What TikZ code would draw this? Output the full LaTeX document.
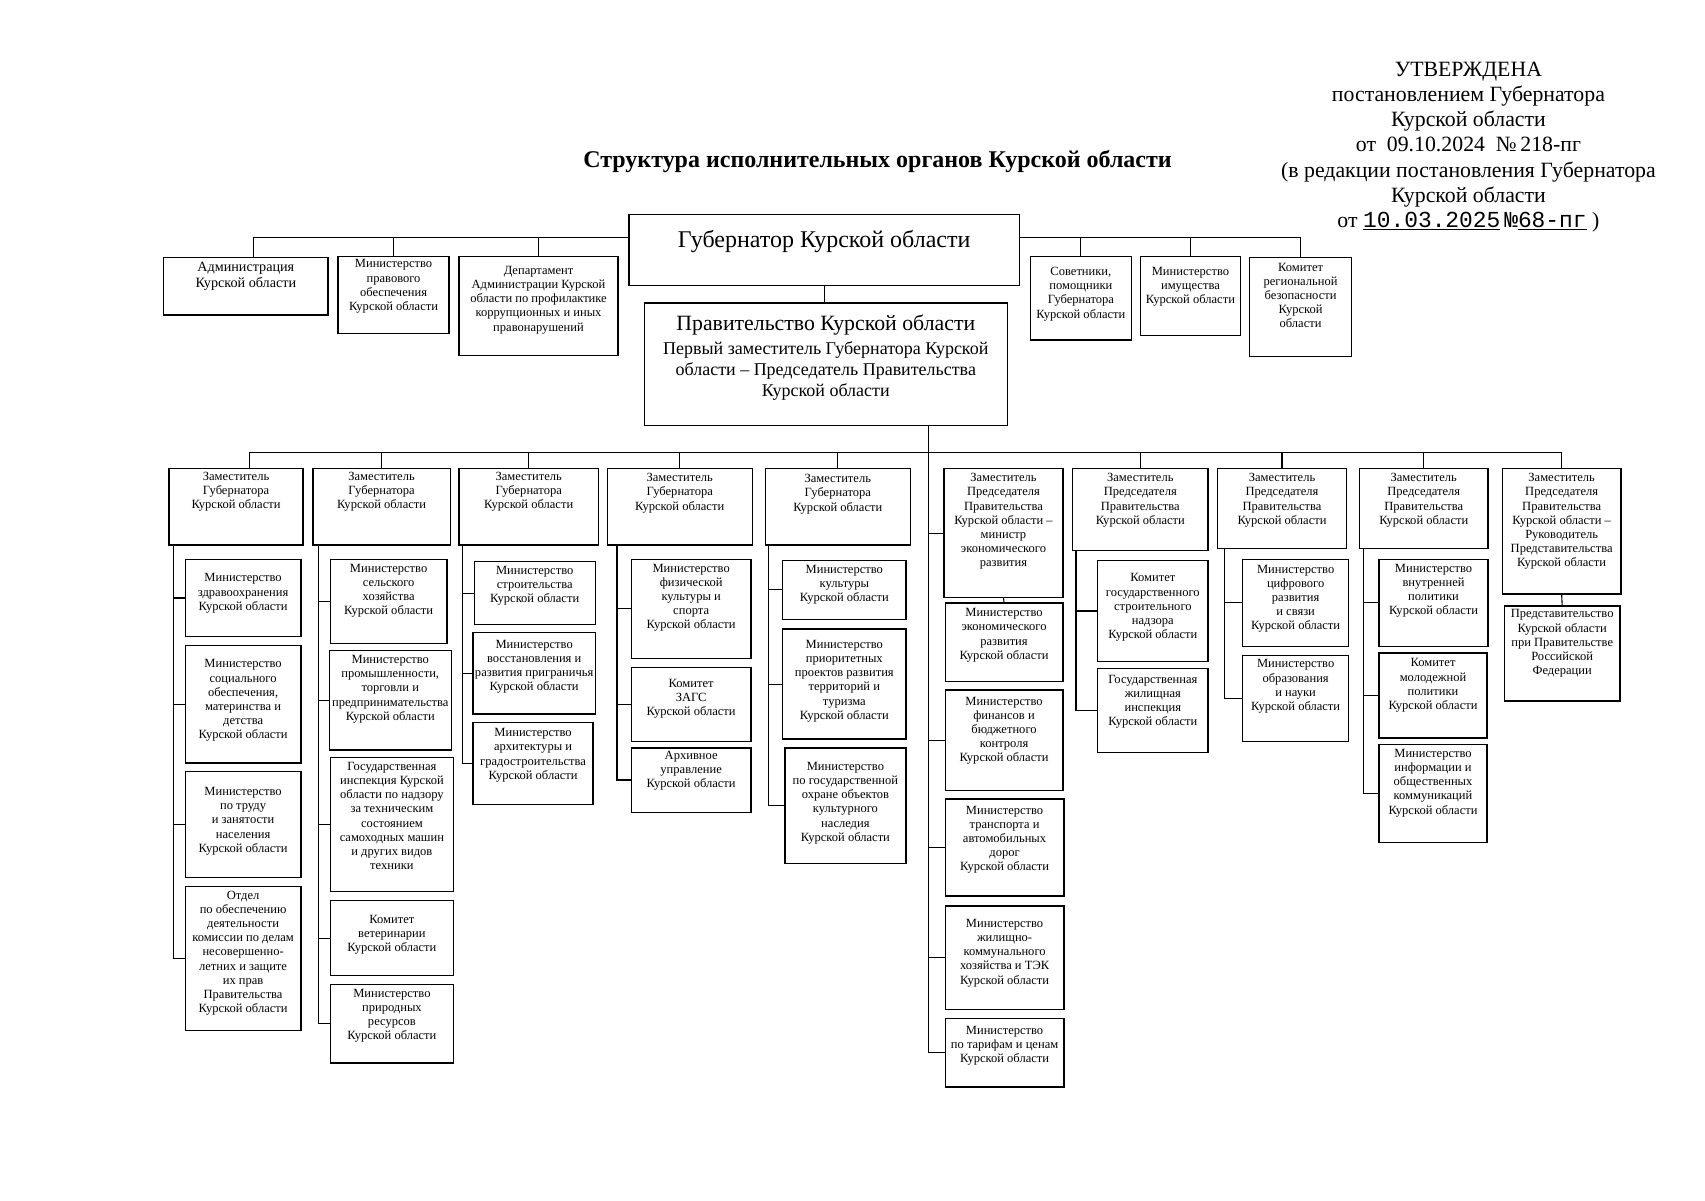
\documentclass[tikz,border=0pt]{standalone}
\usepackage{fontspec}
\setmainfont{Liberation Serif}
\newfontfamily\monof{Liberation Mono}
\usetikzlibrary{positioning}

\begin{document}
\begin{tikzpicture}[x=1pt,y=-1pt,
	unit box/.style={draw,line width=1.2pt,anchor=north west,inner sep=0pt,outer sep=0pt},
	unit text/.style={font=\fontsize{11.5}{13}\selectfont,align=center,inner sep=0pt,anchor=north},
	link/.style={line width=1pt},
	head text/.style={font=\fontsize{20}{23}\selectfont,align=center,inner sep=0pt}]

	\fill[white] (0,0) rectangle (1564,1101);
	\useasboundingbox (0,0) rectangle (1564,1101);

	% header
	\node[head text,anchor=north] (appr) at (1347,57) {УТВЕРЖДЕНА\\постановлением Губернатора\\Курской области\\от\ \ 09.10.2024\ \ №\,218-пг\\(в редакции постановления Губернатора\\Курской области\\от {\fontsize{21}{23}\monof\underline{10.03.2025}\,№\underline{68-пг}} )};
	\node[font=\fontsize{22}{25}\selectfont\bfseries,inner sep=0pt] (title) at (805,148) {Структура исполнительных органов Курской области};

	% governor and government
	\node[unit box,minimum width=358,minimum height=65,label={[unit text,font=\fontsize{22}{25}\selectfont,yshift=-14]north:{Губернатор Курской области}}] (gov) at (577,197) {};
	\node[unit box,minimum width=333,minimum height=112,label={[unit text,font=\fontsize{16.5}{19.5}\selectfont,yshift=-11]north:{{\fontsize{20}{22}\selectfont Правительство Курской области}\\[2pt]Первый заместитель Губернатора Курской\\области – Председатель Правительства\\Курской области}}] (govt) at (591,278) {};

	% top row
	\node[unit box,minimum width=151,minimum height=53,label={[unit text,font=\fontsize{13}{15}\selectfont,yshift=-4]north:{Администрация\\Курской области}}] (adm) at (150,236) {};
	\node[unit box,minimum width=102,minimum height=71,label={[unit text,yshift=-3]north:{Министерство\\правового\\обеспечения\\Курской области}}] (mpr) at (310,235) {};
	\node[unit box,minimum width=146,minimum height=91,label={[unit text,yshift=-9]north:{Департамент\\Администрации Курской\\области по профилактике\\коррупционных и иных\\правонарушений}}] (dep) at (421,235) {};
	\node[unit box,minimum width=93,minimum height=77,label={[unit text,yshift=-10]north:{Советники,\\помощники\\Губернатора\\Курской области}}] (sov) at (945,235) {};
	\node[unit box,minimum width=92,minimum height=73,label={[unit text,yshift=-10]north:{Министерство\\имущества\\Курской области}}] (mim) at (1046,235) {};
	\node[unit box,minimum width=94,minimum height=91,label={[unit text,yshift=-5]north:{Комитет\\региональной\\безопасности\\Курской\\области}}] (krb) at (1146,236) {};

	% deputies
	\node[unit box,minimum width=123,minimum height=70,label={[unit text,yshift=-3]north:{Заместитель\\Губернатора\\Курской области}}] (g1) at (155,430) {};
	\node[unit box,minimum width=126,minimum height=70,label={[unit text,yshift=-3]north:{Заместитель\\Губернатора\\Курской области}}] (g2) at (287,430) {};
	\node[unit box,minimum width=128,minimum height=70,label={[unit text,yshift=-3]north:{Заместитель\\Губернатора\\Курской области}}] (g3) at (421,430) {};
	\node[unit box,minimum width=133,minimum height=70,label={[unit text,yshift=-4]north:{Заместитель\\Губернатора\\Курской области}}] (g4) at (557,430) {};
	\node[unit box,minimum width=133,minimum height=70,label={[unit text,yshift=-5]north:{Заместитель\\Губернатора\\Курской области}}] (g5) at (702,430) {};
	\node[unit box,minimum width=109,minimum height=118,label={[unit text,yshift=-4]north:{Заместитель\\Председателя\\Правительства\\Курской области –\\министр\\экономического\\развития}}] (g6) at (866,430) {};
	\node[unit box,minimum width=124,minimum height=75,label={[unit text,yshift=-4]north:{Заместитель\\Председателя\\Правительства\\Курской области}}] (g7) at (984,430) {};
	\node[unit box,minimum width=118,minimum height=73,label={[unit text,yshift=-4]north:{Заместитель\\Председателя\\Правительства\\Курской области}}] (g8) at (1117,430) {};
	\node[unit box,minimum width=118,minimum height=73,label={[unit text,yshift=-4]north:{Заместитель\\Председателя\\Правительства\\Курской области}}] (g9) at (1247,430) {};
	\node[unit box,minimum width=109,minimum height=115,label={[unit text,yshift=-4]north:{Заместитель\\Председателя\\Правительства\\Курской области –\\Руководитель\\Представительства\\Курской области}}] (g10) at (1378,430) {};

	% first group
	\node[unit box,minimum width=106,minimum height=71,label={[unit text,yshift=-13]north:{Министерство\\здравоохранения\\Курской области}}] (c11) at (170,513) {};
	\node[unit box,minimum width=106,minimum height=108,label={[unit text,yshift=-13]north:{Министерство\\социального\\обеспечения,\\материнства и\\детства\\Курской области}}] (c12) at (170,592) {};
	\node[unit box,minimum width=106,minimum height=97,label={[unit text,yshift=-14]north:{Министерство\\по труду\\и занятости\\населения\\Курской области}}] (c13) at (170,708) {};
	\node[unit box,minimum width=106,minimum height=132,label={[unit text,yshift=-4]north:{Отдел\\по обеспечению\\деятельности\\комиссии по делам\\несовершенно-\\летних и защите\\их прав\\Правительства\\Курской области}}] (c14) at (170,813) {};

	% second group
	\node[unit box,minimum width=107,minimum height=77,label={[unit text,yshift=-4]north:{Министерство\\сельского\\хозяйства\\Курской области}}] (c21) at (303,513) {};
	\node[unit box,minimum width=112,minimum height=91,label={[unit text,yshift=-4]north:{Министерство\\промышленности,\\торговли и\\предпринимательства\\Курской области}}] (c22) at (302,597) {};
	\node[unit box,minimum width=113,minimum height=123,label={[unit text,yshift=-4]north:{Государственная\\инспекция Курской\\области по надзору\\за техническим\\состоянием\\самоходных машин\\и других видов\\техники}}] (c23) at (303,695) {};
	\node[unit box,minimum width=113,minimum height=69,label={[unit text,yshift=-13]north:{Комитет\\ветеринарии\\Курской области}}] (c24) at (303,826) {};
	\node[unit box,minimum width=113,minimum height=72,label={[unit text,yshift=-4]north:{Министерство\\природных\\ресурсов\\Курской области}}] (c25) at (303,903) {};

	% third group
	\node[unit box,minimum width=111,minimum height=58,label={[unit text,yshift=-4]north:{Министерство\\строительства\\Курской области}}] (c31) at (435,515) {};
	\node[unit box,minimum width=112,minimum height=75,label={[unit text,yshift=-7]north:{Министерство\\восстановления и\\развития приграничья\\Курской области}}] (c32) at (434,580) {};
	\node[unit box,minimum width=110,minimum height=75,label={[unit text,yshift=-5]north:{Министерство\\архитектуры и\\градостроительства\\Курской области}}] (c33) at (434,663) {};

	% fourth group
	\node[unit box,minimum width=110,minimum height=91,label={[unit text,yshift=-4]north:{Министерство\\физической\\культуры и\\спорта\\Курской области}}] (c41) at (579,513) {};
	\node[unit box,minimum width=110,minimum height=68,label={[unit text,yshift=-11]north:{Комитет\\ЗАГС\\Курской области}}] (c42) at (579,612) {};
	\node[unit box,minimum width=110,minimum height=59,label={[unit text,yshift=-3]north:{Архивное\\управление\\Курской области}}] (c43) at (579,686) {};

	% fifth group
	\node[unit box,minimum width=113,minimum height=54,label={[unit text,yshift=-4]north:{Министерство\\культуры\\Курской области}}] (c51) at (718,514) {};
	\node[unit box,minimum width=113,minimum height=101,label={[unit text,yshift=-10]north:{Министерство\\приоритетных\\проектов развития\\территорий и\\туризма\\Курской области}}] (c52) at (718,577) {};
	\node[unit box,minimum width=111,minimum height=106,label={[unit text,yshift=-13]north:{Министерство\\по государственной\\охране объектов\\культурного\\наследия\\Курской области}}] (c53) at (720,686) {};

	% sixth group
	\node[unit box,minimum width=108,minimum height=72,label={[unit text,yshift=-5]north:{Министерство\\экономического\\развития\\Курской области}}] (c61) at (867,553) {};
	\node[unit box,minimum width=108,minimum height=92,label={[unit text,yshift=-6]north:{Министерство\\финансов и\\бюджетного\\контроля\\Курской области}}] (c62) at (867,633) {};
	\node[unit box,minimum width=109,minimum height=89,label={[unit text,yshift=-6]north:{Министерство\\транспорта и\\автомобильных\\дорог\\Курской области}}] (c63) at (867,733) {};
	\node[unit box,minimum width=109,minimum height=95,label={[unit text,yshift=-12]north:{Министерство\\жилищно-\\коммунального\\хозяйства и ТЭК\\Курской области}}] (c64) at (867,831) {};
	\node[unit box,minimum width=109,minimum height=63,label={[unit text,yshift=-7]north:{Министерство\\по тарифам и ценам\\Курской области}}] (c65) at (867,934) {};

	% seventh to tenth groups
	\node[unit box,minimum width=101,minimum height=93,label={[unit text,yshift=-12]north:{Комитет\\государственного\\строительного\\надзора\\Курской области}}] (c71) at (1007,514) {};
	\node[unit box,minimum width=101,minimum height=77,label={[unit text,yshift=-6]north:{Государственная\\жилищная\\инспекция\\Курской области}}] (c72) at (1007,613) {};
	\node[unit box,minimum width=97,minimum height=80,label={[unit text,yshift=-5]north:{Министерство\\цифрового\\развития\\и связи\\Курской области}}] (c81) at (1140,513) {};
	\node[unit box,minimum width=97,minimum height=79,label={[unit text,yshift=-4]north:{Министерство\\образования\\и науки\\Курской области}}] (c82) at (1140,601) {};
	\node[unit box,minimum width=100,minimum height=80,label={[unit text,yshift=-4]north:{Министерство\\внутренней\\политики\\Курской области}}] (c91) at (1265,513) {};
	\node[unit box,minimum width=99,minimum height=78,label={[unit text,yshift=-5]north:{Комитет\\молодежной\\политики\\Курской области}}] (c92) at (1265,599) {};
	\node[unit box,minimum width=99,minimum height=90,label={[unit text,yshift=-4]north:{Министерство\\информации и\\общественных\\коммуникаций\\Курской области}}] (c93) at (1265,683) {};
	\node[unit box,minimum width=106,minimum height=87,label={[unit text,yshift=-3]north:{Представительство\\Курской области\\при Правительстве\\Российской\\Федерации}}] (c101) at (1380,556) {};

	% top bar
	\coordinate (tb) at (0,218);
	\draw[link] (gov.west |- tb) -| ([xshift=7]adm.north);
	\draw[link] (gov.east |- tb) -| (krb.north);
	\foreach \n in {mpr,dep,sov,mim}
		\draw[link] (\n.north) -- (\n.north |- tb);
	\draw[link] (gov.south) -- (gov.south |- govt.north);

	% main bar
	\coordinate (mb) at (0,415);
	\coordinate (s6) at ([xshift=-14]g6.north west);
	\draw[link] ([xshift=12]g1.north) |- (mb -| g10.north) -- (g10.north);
	\foreach \g in {g2,g3,g4,g5,g7,g8,g9}
		\draw[link] (\g.north) -- (\g.north |- mb);
	\draw[link] (govt.south -| s6) |- (c65.west);
	\foreach \c in {g6,c62,c63,c64}
		\draw[link] (s6 |- \c.west) -- (\c.west);
	\draw[link] (g6.south) -- (c61.north);
	\draw[link] (g10.south) -- (c101.north);

	% branches
	\draw[link] ([xshift=4]g1.south west) coordinate (s1) |- (c14.west);
	\foreach \c in {c11,c12,c13}
		\draw[link] (s1 |- \c.west) -- (\c.west);
	\draw[link] ([xshift=5]g2.south west) coordinate (s2) |- (c25.west);
	\foreach \c in {c21,c22,c23,c24}
		\draw[link] (s2 |- \c.west) -- (\c.west);
	\draw[link] ([xshift=3]g3.south west) coordinate (s3) |- (c33.west);
	\foreach \c in {c31,c32}
		\draw[link] (s3 |- \c.west) -- (\c.west);
	\draw[link] ([xshift=9]g4.south west) coordinate (s4) |- (c43.west);
	\foreach \c in {c41,c42}
		\draw[link] (s4 |- \c.west) -- (\c.west);
	\draw[link] ([xshift=3]g5.south west) coordinate (s5) |- (c53.west);
	\foreach \c in {c51,c52}
		\draw[link] (s5 |- \c.west) -- (\c.west);
	\draw[link] ([xshift=3]g7.south west) coordinate (s7) |- (c72.west);
	\draw[link] (s7 |- c71.west) -- (c71.west);
	\draw[link] ([xshift=6]g8.south west) coordinate (s8) |- (c82.west);
	\draw[link] (s8 |- c81.west) -- (c81.west);
	\draw[link] ([xshift=4]g9.south west) coordinate (s9) |- (c93.west);
	\foreach \c in {c91,c92}
		\draw[link] (s9 |- \c.west) -- (\c.west);

\end{tikzpicture}
\end{document}
